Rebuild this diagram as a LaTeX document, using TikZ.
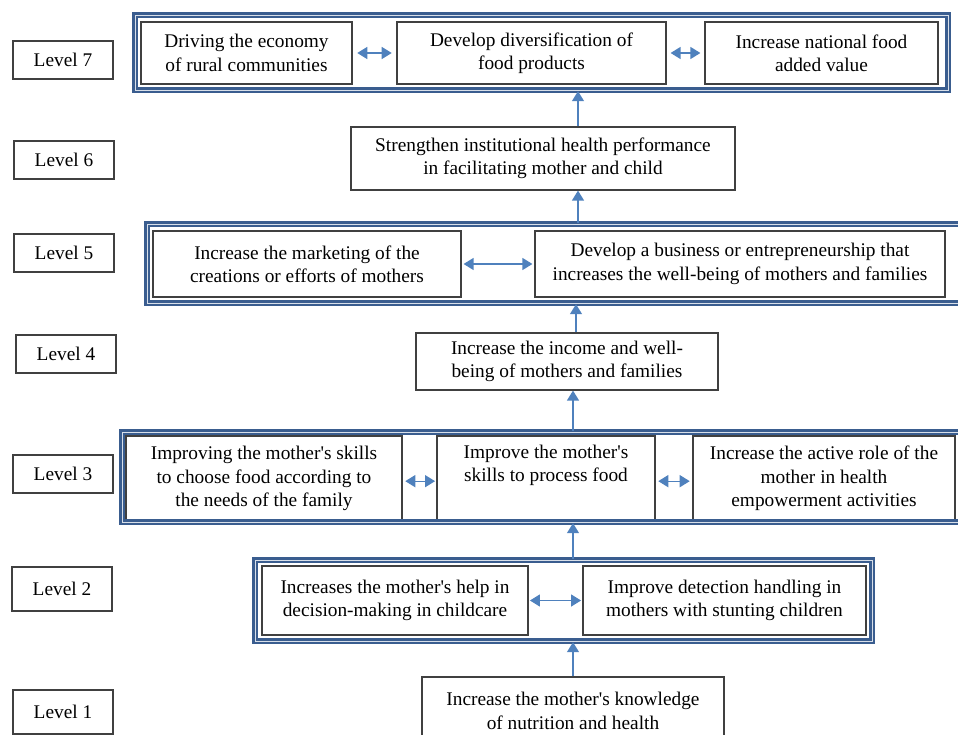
\documentclass[tikz,border=0pt]{standalone}
\usepackage{fontspec}
\setmainfont{Liberation Serif}
\usetikzlibrary{positioning, arrows.meta}
\definecolor{frameblue}{HTML}{3A5D8F}
\definecolor{arrowblue}{HTML}{4F81BD}
\definecolor{boxgray}{HTML}{404040}
\newcommand{\ap}{\textquotesingle}

\begin{document}
\begin{tikzpicture}[x=0.75pt,y=-0.75pt,>={Triangle[width=9pt,length=7.5pt]},
  font=\fontsize{14.5}{17.5}\selectfont,
  lvl/.style={draw=boxgray,line width=0.9pt,minimum width=75pt,minimum height=28.5pt,inner sep=0pt},
  box/.style={draw=boxgray,line width=0.9pt,align=center,inner sep=0pt},
  grp/.style={draw=frameblue,double=frameblue!20,double distance=0.35pt,line width=1.8pt,inner sep=0pt},
  link/.style={draw=arrowblue,line width=1pt}]
\clip (0,0) rectangle (958,735);
%%First place the level labels
\node[lvl] (lv7) at (63,60) {Level 7};
\node[lvl] (lv6) at (64,160) {Level 6};
\node[lvl] (lv5) at (64,253) {Level 5};
\node[lvl] (lv4) at (66,354) {Level 4};
\node[lvl] (lv3) at (63,474) {Level 3};
\node[lvl,minimum height=33pt] (lv2) at (62,589) {Level 2};
\node[lvl,minimum height=33pt] (lv1) at (63,712) {Level 1};
%%Then the boxes of each level
\node[box,minimum width=158.25pt,minimum height=46.5pt] (rural) at (246.5,53) {Driving the economy\\of rural communities};
\node[box,minimum width=201.75pt,minimum height=46.5pt] (divers) at (531.5,53) {Develop diversification of\\food products};
\node[box,minimum width=174.75pt,minimum height=46.5pt] (added) at (821.5,53) {Increase national food\\added value};
\node[box,minimum width=288pt,minimum height=47.25pt] (health) at (543,158.5) {Strengthen institutional health performance\\in facilitating mother and child};
\node[box,minimum width=231pt,minimum height=49.5pt] (market) at (307,264) {Increase the marketing of the\\creations or efforts of mothers};
\node[box,minimum width=307.5pt,minimum height=49.5pt] (business) at (740,264) {Develop a business or entrepreneurship that\\increases the well-being of mothers and families};
\node[box,minimum width=226.5pt,minimum height=42.75pt] (income) at (567,361.5) {Increase the income and well-\\being of mothers and families};
\node[box,minimum width=207pt,minimum height=63.75pt] (choose) at (264,478.5) {Improving the mother\ap s skills\\to choose food according to\\the needs of the family};
\node[box,minimum width=163.5pt,minimum height=63.75pt] (process) at (546,478.5) {Improve the mother\ap s\\skills to process food\\\strut};
\node[box,minimum width=196.5pt,minimum height=63.75pt] (role) at (824,478.5) {Increase the active role of the\\mother in health\\empowerment activities};
\node[box,minimum width=199.5pt,minimum height=51.75pt] (help) at (395,600.5) {Increases the mother\ap s help in\\decision-making in childcare};
\node[box,minimum width=212.25pt,minimum height=51.75pt] (detect) at (724.5,600.5) {Improve detection handling in\\mothers with stunting children};
\node[box,minimum width=226.5pt,minimum height=51pt] (know) at (573,711) {Increase the mother\ap s knowledge\\of nutrition and health};
%%The blue frames round the groups
\node[grp,minimum width=609.75pt,minimum height=56.25pt] (g7) at (541.5,52.5) {};
\node[grp,minimum width=612.75pt,minimum height=59.25pt] (g5) at (555.5,263.5) {};
\node[grp,minimum width=631.5pt,minimum height=67.5pt] (g3) at (543,477) {};
\node[grp,minimum width=462.75pt,minimum height=60.75pt] (g2) at (563.5,600.5) {};
%%Feet of the upward arrows
\coordinate (a6) at ([xshift=26.25pt]health.north);
\coordinate (a5) at ([xshift=26.25pt]health.south);
\coordinate (a4) at ([xshift=6.75pt]income.north);
\coordinate (a3) at ([xshift=4.5pt]income.south);
%%Draw the double arrows
\draw[link,<->,shorten <=3.5pt,shorten >=3.5pt] (rural) -- (divers);
\draw[link,<->,shorten <=3pt,shorten >=3pt] (divers) -- (added);
\draw[link,<->,shorten <=1.5pt,shorten >=1.5pt] (market) -- (business);
\draw[link,<->,shorten <=2pt,shorten >=1pt] ([yshift=-2pt]choose.east) -- ([yshift=-2pt]process.west);
\draw[link,<->,shorten <=2pt,shorten >=2pt] ([yshift=-2pt]process.east) -- ([yshift=-2pt]role.west);
\draw[link,<->,shorten <=1pt,shorten >=1pt] (help) -- (detect);
%%Draw the upward arrows
\draw[link,->] (know.north) -- (know.north |- g2.south);
\draw[link,->] (know.north |- g2.north) -- (know.north |- g3.south);
\draw[link,->] (a3 |- g3.north) -- (a3);
\draw[link,->] (a4) -- (a4 |- g5.south);
\draw[link,->] (a5 |- g5.north) -- (a5);
\draw[link,->] (a6) -- (a6 |- g7.south);
\end{tikzpicture}
\end{document}
